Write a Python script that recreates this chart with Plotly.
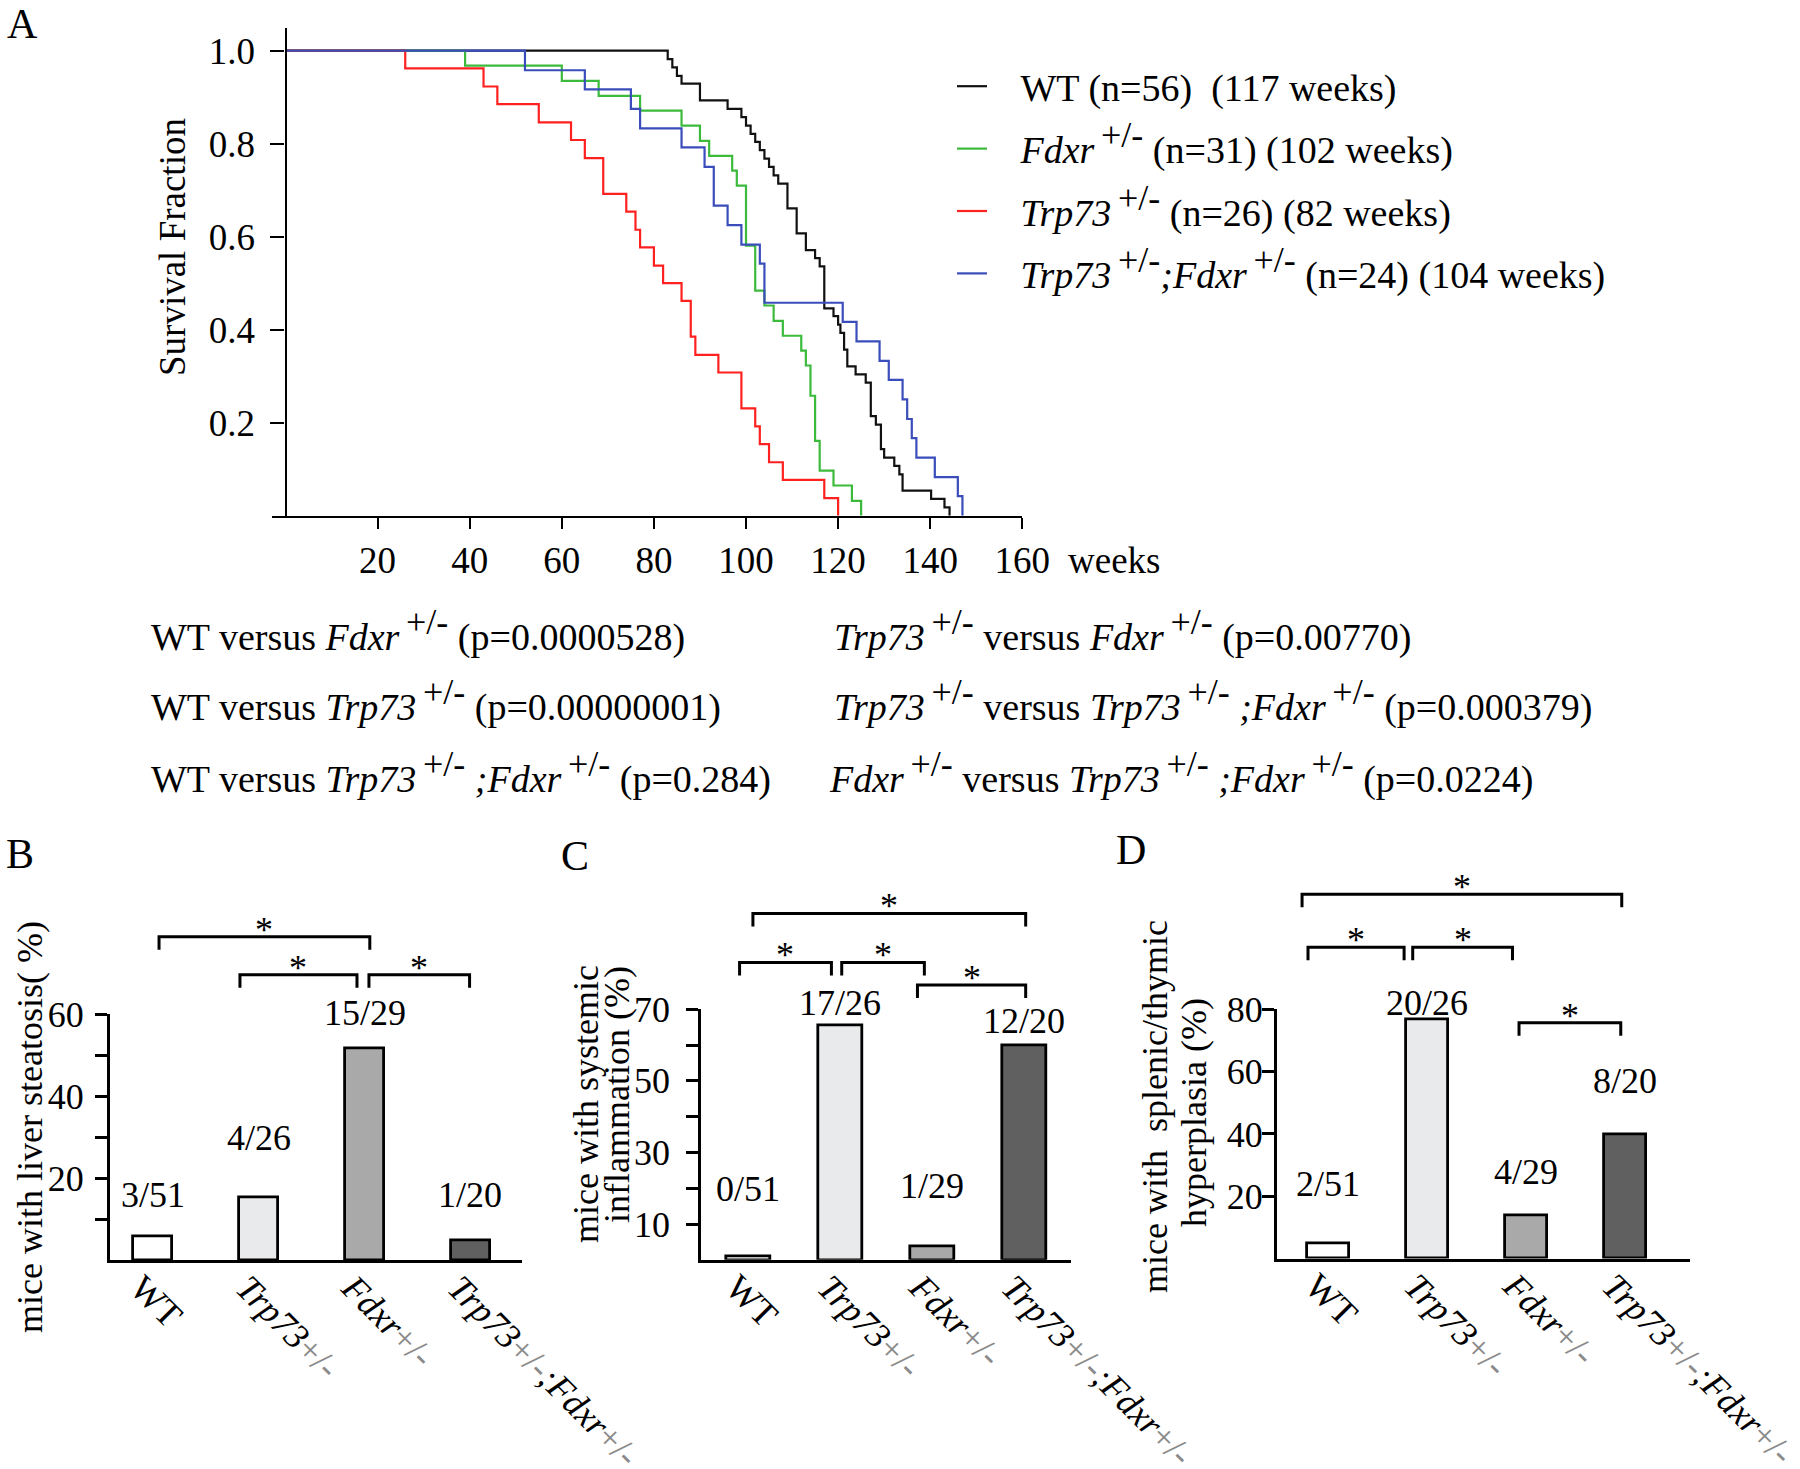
import plotly.graph_objects as go

W, H = 1800, 1469
FONT = "Liberation Serif"

# ---------------- Panel A data (Kaplan-Meier steps) ----------------
wt_weeks = [0, 83, 84, 85, 86, 90, 96, 99, 100, 101, 102, 103, 104, 105, 106, 107, 109, 111, 113,
            115, 116, 117, 119, 120, 120.5, 121.3, 122, 123.8, 126, 127.1, 128.2, 129.3, 130,
            132.2, 133.3, 134, 140.2, 143.1, 144.2]
wt_surv = [1.0, 0.982, 0.964, 0.946, 0.929, 0.893, 0.875, 0.857, 0.839, 0.821, 0.804, 0.786, 0.768,
           0.750, 0.732, 0.714, 0.661, 0.607, 0.571, 0.554, 0.536, 0.446, 0.429, 0.411, 0.393,
           0.357, 0.321, 0.304, 0.286, 0.214, 0.196, 0.143, 0.125, 0.107, 0.089, 0.054, 0.036,
           0.018, 0.0]

fdxr_weeks = [0, 39, 60, 68, 77, 86, 90, 92, 97, 98, 100, 102, 104, 106, 108, 112, 113, 114, 115,
              116, 119, 123, 125]
fdxr_surv = [1.0, 0.968, 0.935, 0.903, 0.871, 0.839, 0.806, 0.774, 0.742, 0.710, 0.581, 0.484,
             0.452, 0.419, 0.387, 0.355, 0.323, 0.258, 0.161, 0.097, 0.065, 0.032, 0.0]

trp_weeks = [0, 26, 43, 46, 55, 62, 65, 69, 74, 76, 77, 80, 82, 86, 88, 89, 94, 99, 102, 103, 105,
             108, 117, 120]
trp_surv = [1.0, 0.962, 0.923, 0.885, 0.846, 0.808, 0.769, 0.692, 0.654, 0.615, 0.577, 0.538, 0.5,
            0.462, 0.385, 0.346, 0.308, 0.231, 0.192, 0.154, 0.115, 0.077, 0.038, 0.0]

combo_weeks = [0, 52, 65, 75, 77, 86, 91, 93, 96, 99, 103, 104, 121, 124, 129, 131, 134, 135, 136,
               137, 141, 146, 147]
combo_surv = [1.0, 0.958, 0.917, 0.875, 0.833, 0.792, 0.75, 0.667, 0.625, 0.583, 0.542, 0.458,
              0.417, 0.375, 0.333, 0.292, 0.25, 0.208, 0.167, 0.125, 0.083, 0.042, 0.0]

SUP = "<sup>\u00a0<span style='font-size:36px'>+/-</span></sup>"
km_names = ["WT (n=56)\u00a0\u00a0(117 weeks)",
            "<i>Fdxr</i>" + SUP + " (n=31) (102 weeks)",
            "<i>Trp73</i>" + SUP + " (n=26) (82 weeks)",
            "<i>Trp73</i>" + SUP + "<i>;Fdxr</i>" + SUP + " (n=24) (104 weeks)"]
km_colors = ["#111111", "#3cba3c", "#ff2020", "#3a4dbb"]

x_ticks_A = [20, 40, 60, 80, 100, 120, 140, 160]
y_ticks_A = [0.2, 0.4, 0.6, 0.8, 1.0]

comparisons_left = [
    "WT versus <i>Fdxr</i>" + SUP + " (p=0.0000528)",
    "WT versus <i>Trp73</i>" + SUP + " (p=0.00000001)",
    "WT versus <i>Trp73</i>" + SUP + " <i>;Fdxr</i>" + SUP + " (p=0.284)",
]
comparisons_right = [
    "<i>Trp73</i>" + SUP + " versus <i>Fdxr</i>" + SUP + " (p=0.00770)",
    "<i>Trp73</i>" + SUP + " versus <i>Trp73</i>" + SUP + " <i>;Fdxr</i>" + SUP + " (p=0.000379)",
    "<i>Fdxr</i>" + SUP + " versus <i>Trp73</i>" + SUP + " <i>;Fdxr</i>" + SUP + " (p=0.0224)",
]

# ---------------- Bar panels data ----------------
groups = ["WT", "Trp73+/-", "Fdxr+/-", "Trp73+/-;Fdxr+/-"]
G = "<span style='color:#8a8a8a'>+/-</span>"
group_ticktext = ["WT", "<i>Trp73</i>" + G, "<i>Fdxr</i>" + G, "<i>Trp73</i>" + G + "<i>;Fdxr</i>" + G]
bar_colors = ["#ffffff", "#e9eaeb", "#a9a9a9", "#606060"]

steatosis_pct = [6.0, 15.4, 51.7, 5.0]
steatosis_lbl = ["3/51", "4/26", "15/29", "1/20"]

inflammation_pct = [1.0, 65.4, 3.7, 60.0]
inflammation_lbl = ["0/51", "17/26", "1/29", "12/20"]

hyperplasia_pct = [5.0, 76.9, 13.8, 40.0]
hyperplasia_lbl = ["2/51", "20/26", "4/29", "8/20"]

# ---------------- layout geometry (pixels) ----------------
def fx(px):
    return px / W


def fy(py):
    return 1 - py / H


panels = {
    "B": dict(xd=(110, 522), xr=(-0.403, 3.487), yd=(1260.4, 1014.2), yr=(0, 60)),
    "C": dict(xd=(701.2, 1070.5), xr=(-0.51, 3.503), yd=(1259.8, 1009.3), yr=(0, 70)),
    "D": dict(xd=(1277, 1690.3), xr=(-0.513, 3.659), yd=(1258.5, 1009.3), yr=(0, 80)),
}


def px_of(p, v):
    P = panels[p]
    (a, b), (r0, r1) = P["xd"], P["xr"]
    return a + (v - r0) / (r1 - r0) * (b - a)


def py_of(p, v):
    P = panels[p]
    (a, b), (r0, r1) = P["yd"], P["yr"]
    return a + (v - r0) / (r1 - r0) * (b - a)


fig = go.Figure()

# KM curves
for wk, sv, nm, col in [(wt_weeks, wt_surv, km_names[0], km_colors[0]),
                        (fdxr_weeks, fdxr_surv, km_names[1], km_colors[1]),
                        (trp_weeks, trp_surv, km_names[2], km_colors[2]),
                        (combo_weeks, combo_surv, km_names[3], km_colors[3])]:
    fig.add_trace(go.Scatter(x=wk, y=sv, mode="lines", line=dict(shape="hv", color=col, width=2.2),
                             name="\u00a0\u00a0\u00a0" + nm, legendgroup=nm, xaxis="x", yaxis="y",
                             hoverinfo="skip"))

# Bars
bar_sets = [("B", steatosis_pct, "x2", "y2", 0.363),
            ("C", inflammation_pct, "x3", "y3", 0.48),
            ("D", hyperplasia_pct, "x4", "y4", 0.42)]
for p, vals, xa, ya, wdt in bar_sets:
    fig.add_trace(go.Bar(x=list(range(len(groups))), y=vals, width=wdt,
                         marker=dict(color=bar_colors, line=dict(color="black", width=2.8)),
                         xaxis=xa, yaxis=ya, showlegend=False, hovertext=groups))

ax_common = dict(showline=True, linecolor="black", showgrid=False, zeroline=False, automargin=False,
                 ticks="outside", tickcolor="black", tickfont=dict(family=FONT, size=37, color="black"))

layout = dict(
    width=W, height=H, margin=dict(l=0, r=0, t=0, b=0, pad=0, autoexpand=False),
    paper_bgcolor="white", plot_bgcolor="white",
    font=dict(family=FONT, size=37, color="black"),
    bargap=0,
    showlegend=True,
    legend=dict(x=fx(952), y=fy(55), xanchor="left", yanchor="top", font=dict(family=FONT, size=38),
                traceorder="grouped", tracegroupgap=10, itemwidth=30, bgcolor="rgba(0,0,0,0)"),
    xaxis=dict(ax_common, domain=[fx(271.7), fx(1022.3)], range=[-3, 160], anchor="y",
               tickvals=x_ticks_A, ticklen=11, tickwidth=2.3, linewidth=2.3, ticklabelstandoff=0),
    yaxis=dict(ax_common, domain=[fy(515.7), fy(28)], range=[0, (515.7 - 28) / 465], anchor="free",
               position=fx(285.5), tickvals=y_ticks_A, ticktext=["0.2", "0.4", "0.6", "0.8", "1.0"],
               ticklen=14, tickwidth=2.3, linewidth=2.3, ticklabelstandoff=8),
)

ytick_cfg = {
    "B": dict(tickvals=[20, 40, 60], ticklabelstandoff=4,
              minor=dict(tickvals=[10, 30, 50], ticklen=12, tickwidth=2.5, ticks="outside", tickcolor="black")),
    "C": dict(tickvals=[10, 30, 50, 70], ticklabelstandoff=9,
              minor=dict(tickvals=[20, 40, 60], ticklen=12, tickwidth=2.5, ticks="outside", tickcolor="black")),
    "D": dict(tickvals=[20, 40, 60, 80], ticklabelstandoff=-8),
}
for i, p in enumerate(["B", "C", "D"], start=2):
    P = panels[p]
    layout[f"xaxis{i}"] = dict(ax_common, domain=[fx(P["xd"][0]), fx(P["xd"][1])], range=list(P["xr"]),
                               anchor=f"y{i}", ticks="", tickvals=[0, 1, 2, 3], ticktext=group_ticktext,
                               tickangle=45, linewidth=3, ticklabelstandoff=-11, ticklabelshift=-12,
                               ticklabeloverflow="allow",
                               tickfont=dict(family=FONT, size=36, color="black"))
    layout[f"yaxis{i}"] = dict(ax_common, domain=[fy(P["yd"][0]), fy(P["yd"][1])], range=list(P["yr"]),
                               anchor=f"x{i}", ticklen=12, tickwidth=2.5, linewidth=3,
                               tickfont=dict(family=FONT, size=36, color="black"), **ytick_cfg[p])
fig.update_layout(**layout)

annotations = []
shapes = []


def txt(x, y, s, size=38, xanchor="center", yanchor="middle", angle=0):
    annotations.append(dict(x=fx(x), y=fy(y), xref="paper", yref="paper", text=s, showarrow=False,
                            xanchor=xanchor, yanchor=yanchor, textangle=angle,
                            font=dict(family=FONT, size=size, color="black")))


# panel letters
txt(22, 24, "A", 42)
txt(20, 854, "B", 42)
txt(575, 856, "C", 42)
txt(1131, 850, "D", 42)

# Panel A titles
txt(172, 247, "Survival Fraction", 37, angle=-90)
txt(1066, 560, "weeks", 37, xanchor="left")

ROWS = [630, 701, 772]
for k, s in enumerate(comparisons_left):
    txt(149, ROWS[k], s, 38, xanchor="left")
for k, s in enumerate(comparisons_right):
    txt([832, 832, 827][k], ROWS[k], s, 38, xanchor="left")

# bar panel y titles
txt(30, 1127, "mice with liver steatosis( %)", 36, angle=-90)
txt(586, 1104, "mice with systemic", 36, angle=-90)
txt(617, 1095, "inflammation (%)", 36, angle=-90)
txt(1155, 1107, "mice with\u00a0\u00a0splenic/thymic", 36, angle=-90)
txt(1194, 1113, "hyperplasia (%)", 36, angle=-90)

# value labels above bars (data units for height)
label_heights = {"B": [16.0, 29.9, 60.2, 16.0], "C": [19.9, 71.7, 20.5, 66.6], "D": [23.8, 82.0, 27.7, 57.1]}
for p, lbls in [("B", steatosis_lbl), ("C", inflammation_lbl), ("D", hyperplasia_lbl)]:
    for k, s in enumerate(lbls):
        txt(px_of(p, k), py_of(p, label_heights[p][k]), s, 36)

# significance brackets: (x0, x1 in bar-index units, y in data units)
brackets = {
    "B": [(0.06, 2.05, 78.9), (0.824, 1.929, 69.6), (2.042, 2.992, 69.6)],
    "C": [(0.052, 3.016, 96.8), (-0.093, 0.905, 83.1), (1.017, 1.915, 83.1), (1.84, 3.016, 76.8)],
    "D": [(-0.26, 2.967, 116.9), (-0.2, 0.77, 99.9), (0.857, 1.864, 99.9), (1.93, 2.957, 75.7)],
}
LEG = 13
for p, lst in brackets.items():
    for x0, x1, yv in lst:
        X0, X1, Y = px_of(p, x0), px_of(p, x1), py_of(p, yv)
        path = (f"M{fx(X0)},{fy(Y + LEG)} L{fx(X0)},{fy(Y)} L{fx(X1)},{fy(Y)} L{fx(X1)},{fy(Y + LEG)}")
        shapes.append(dict(type="path", path=path, xref="paper", yref="paper",
                           line=dict(color="black", width=3)))
        txt((X0 + X1) / 2, Y + 15, "*", 36, yanchor="bottom")

fig.update_layout(annotations=annotations, shapes=shapes)
fig.write_html("out.html", config={"displayModeBar": False},
               post_script="document.body.style.margin='0px';")
